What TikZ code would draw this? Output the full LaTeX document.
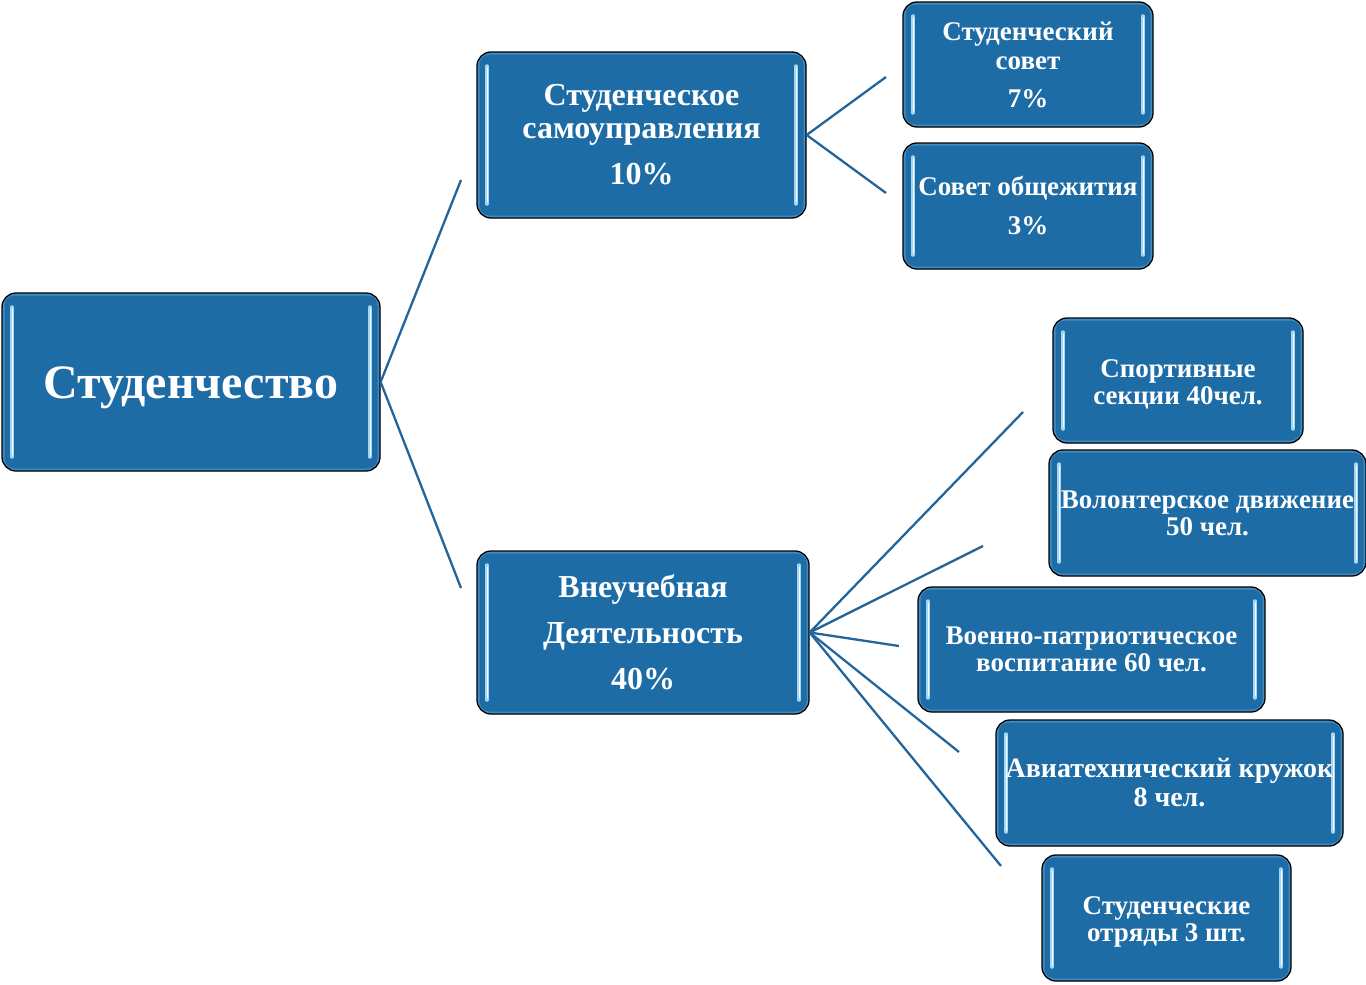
\documentclass[tikz,border=0pt]{standalone}
\usepackage{fontspec}
\setmainfont{Liberation Serif}
\definecolor{boxblue}{RGB}{30,108,166}
\definecolor{stripc}{RGB}{160,215,245}
\definecolor{glowc}{RGB}{90,160,210}
\definecolor{connc}{RGB}{35,100,155}
\tikzset{
  box/.style={rounded corners=14pt, draw=black, line width=1.3pt, fill=boxblue,
    text=white, align=center, inner sep=0pt,
    path picture={
      \draw[glowc, line width=5pt, rounded corners=12pt, opacity=0.6]
        (path picture bounding box.north west) rectangle (path picture bounding box.south east);
      \draw[stripc, line width=3.5pt, line cap=round]
        ([xshift=10pt,yshift=-14pt]path picture bounding box.north west) --
        ([xshift=10pt,yshift=14pt]path picture bounding box.south west);
      \draw[stripc, line width=3.5pt, line cap=round]
        ([xshift=-10pt,yshift=-14pt]path picture bounding box.north east) --
        ([xshift=-10pt,yshift=14pt]path picture bounding box.south east);
      \draw[white, line width=1pt, line cap=round]
        ([xshift=10pt,yshift=-16pt]path picture bounding box.north west) --
        ([xshift=10pt,yshift=16pt]path picture bounding box.south west);
      \draw[white, line width=1pt, line cap=round]
        ([xshift=-10pt,yshift=-16pt]path picture bounding box.north east) --
        ([xshift=-10pt,yshift=16pt]path picture bounding box.south east);
    }},
  fs/.style 2 args={font=\bfseries\fontsize{#1}{#2}\selectfont},
  conn/.style={draw=connc, line width=2.3pt}
}
\begin{document}
\begin{tikzpicture}[x=1pt,y=-1pt]
\useasboundingbox (0,0) rectangle (1366,985);
% root
\node[box, fs={48}{52}, text height=40pt, text depth=8pt, minimum width=378pt, minimum height=178pt] (root) at (191,382)
  {Студенчество};
% level 1
\node[box, fs={32}{33}, minimum width=329pt, minimum height=166pt] (A) at (641.5,135)
  {Студенческое\\самоуправления\\[13pt]10\%};
\node[box, fs={32}{46}, minimum width=332pt, minimum height=163pt] (B) at (643,632.5)
  {Внеучебная\\Деятельность\\40\%};
% level 2 (A)
\node[box, fs={27}{29}, minimum width=250pt, minimum height=125pt] (A1) at (1028,64.5)
  {Студенческий\\совет\\[9pt]7\%};
\node[box, fs={27}{29}, minimum width=250pt, minimum height=126pt] (A2) at (1028,206)
  {Совет общежития\\[10pt]3\%};
% level 2 (B)
\node[box, fs={27}{27}, minimum width=250pt, minimum height=125pt] (B1) at (1178,380.5)
  {\rule{0pt}{25pt}Спортивные\\секции 40чел.};
\node[box, fs={27}{27}, minimum width=317pt, minimum height=126pt] (B2) at (1207.5,513)
  {Волонтерское движение\\50 чел.};
\node[box, fs={27}{27}, minimum width=347pt, minimum height=125pt] (B3) at (1091.5,649.5)
  {Военно-патриотическое\\воспитание 60 чел.};
\node[box, fs={28}{29}, minimum width=347pt, minimum height=126pt] (B4) at (1169.5,783)
  {Авиатехнический кружок\\8 чел.};
\node[box, fs={27}{27}, minimum width=249pt, minimum height=126pt] (B5) at (1166.5,918)
  {\rule{0pt}{25pt}Студенческие\\отряды 3 шт.};
% free ends
\coordinate (r1) at (461,180);
\coordinate (r2) at (461,588);
\coordinate (a1) at (886,77);
\coordinate (a2) at (886,193);
\coordinate (b1) at (1023,412);
\coordinate (b2) at (983,546);
\coordinate (b3) at (899,646);
\coordinate (b4) at (959,752);
\coordinate (b5) at (1001,866);
% connectors
\draw[conn] (root.east) -- (r1);
\draw[conn] (root.east) -- (r2);
\draw[conn] (A.east) -- (a1);
\draw[conn] (A.east) -- (a2);
\draw[conn] (B.east) -- (b1);
\draw[conn] (B.east) -- (b2);
\draw[conn] (B.east) -- (b3);
\draw[conn] (B.east) -- (b4);
\draw[conn] (B.east) -- (b5);
\end{tikzpicture}
\end{document}
